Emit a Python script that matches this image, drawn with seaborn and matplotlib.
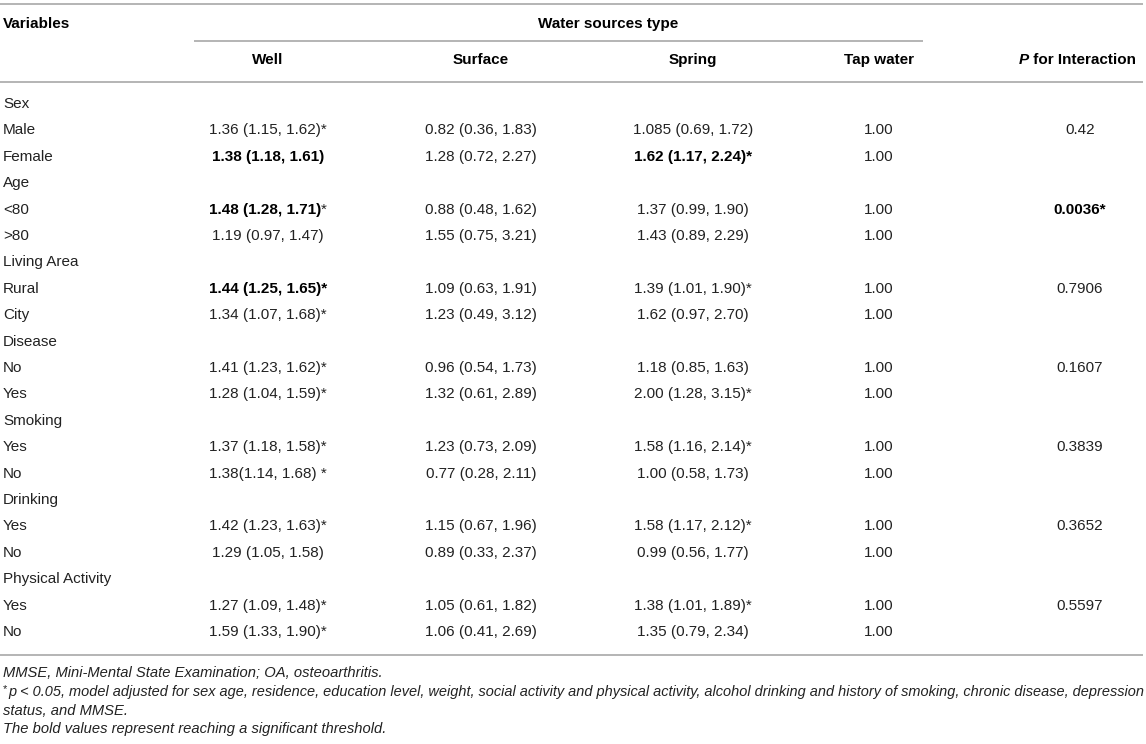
import matplotlib
matplotlib.use("Agg")
import matplotlib.pyplot as plt
import seaborn as sns

sns.set_theme(style="white")
plt.rcParams['font.family'] = ['Liberation Sans', 'DejaVu Sans']

# ---------------- data ----------------
variables = ["Sex", "Male", "Female", "Age", "<80", ">80", "Living Area", "Rural", "City",
             "Disease", "No", "Yes", "Smoking", "Yes", "No", "Drinking", "Yes", "No",
             "Physical Activity", "Yes", "No"]
well = ["", "1.36 (1.15, 1.62)*", "1.38 (1.18, 1.61)", "", "1.48 (1.28, 1.71)", "1.19 (0.97, 1.47)",
        "", "1.44 (1.25, 1.65)*", "1.34 (1.07, 1.68)*", "", "1.41 (1.23, 1.62)*", "1.28 (1.04, 1.59)*",
        "", "1.37 (1.18, 1.58)*", "1.38(1.14, 1.68) *", "", "1.42 (1.23, 1.63)*", "1.29 (1.05, 1.58)",
        "", "1.27 (1.09, 1.48)*", "1.59 (1.33, 1.90)*"]
surface = ["", "0.82 (0.36, 1.83)", "1.28 (0.72, 2.27)", "", "0.88 (0.48, 1.62)", "1.55 (0.75, 3.21)",
           "", "1.09 (0.63, 1.91)", "1.23 (0.49, 3.12)", "", "0.96 (0.54, 1.73)", "1.32 (0.61, 2.89)",
           "", "1.23 (0.73, 2.09)", "0.77 (0.28, 2.11)", "", "1.15 (0.67, 1.96)", "0.89 (0.33, 2.37)",
           "", "1.05 (0.61, 1.82)", "1.06 (0.41, 2.69)"]
spring = ["", "1.085 (0.69, 1.72)", "1.62 (1.17, 2.24)*", "", "1.37 (0.99, 1.90)", "1.43 (0.89, 2.29)",
          "", "1.39 (1.01, 1.90)*", "1.62 (0.97, 2.70)", "", "1.18 (0.85, 1.63)", "2.00 (1.28, 3.15)*",
          "", "1.58 (1.16, 2.14)*", "1.00 (0.58, 1.73)", "", "1.58 (1.17, 2.12)*", "0.99 (0.56, 1.77)",
          "", "1.38 (1.01, 1.89)*", "1.35 (0.79, 2.34)"]
tap = ["", "1.00", "1.00", "", "1.00", "1.00", "", "1.00", "1.00", "", "1.00", "1.00",
       "", "1.00", "1.00", "", "1.00", "1.00", "", "1.00", "1.00"]
p_inter = ["", "0.42", "", "", "0.0036*", "", "", "0.7906", "", "", "0.1607", "",
           "", "0.3839", "", "", "0.3652", "", "", "0.5597", ""]
# bold cells: (row, column name)
bold_cells = {(2, "well"), (4, "well"), (7, "well"), (2, "spring"), (4, "p")}
# bold cells followed by a regular-weight asterisk
light_star_cells = {(4, "well")}

col_headers = ["Well", "Surface", "Spring", "Tap water"]
group_header = "Water sources type"
footnotes = [
    "MMSE, Mini-Mental State Examination; OA, osteoarthritis.",
    "p < 0.05, model adjusted for sex age, residence, education level, weight, social activity and physical activity, alcohol drinking and history of smoking, chronic disease, depression",
    "status, and MMSE.",
    "The bold values represent reaching a significant threshold.",
]

# ---------------- layout ----------------
W, H = 1146, 744
fig = plt.figure(figsize=(W / 100, H / 100), dpi=100)
ax = fig.add_axes([0, 0, 1, 1])
ax.set_xlim(0, W)
ax.set_ylim(H, 0)
ax.axis("off")

FS = 11.0
line_color = "#b4b4b4"
txt = "#222222"

col_x = {"well": 268, "surface": 481, "spring": 693, "tap": 879, "p": 1080}
columns = {"well": well, "surface": surface, "spring": spring, "tap": tap, "p": p_inter}

# rules
ax.hlines([4, 82, 655], 0, 1143, color=line_color, lw=1.4)
ax.hlines(41, 194, 923, color=line_color, lw=1.4)

# header
ax.text(3, 24, "Variables", fontsize=FS, fontweight="bold", va="center", ha="left", color="black")
ax.text(608, 24, group_header, fontsize=FS, fontweight="bold", va="center", ha="center", color="black")
for name, key in zip(col_headers, ["well", "surface", "spring", "tap"]):
    ax.text(col_x[key], 60, name, fontsize=FS, fontweight="bold", va="center", ha="center", color="black")
ax.text(1029, 60, "P", fontsize=FS, fontweight="bold", fontstyle="italic", va="center", ha="right", color="black")
ax.text(1029, 60, " for Interaction", fontsize=FS, fontweight="bold", va="center", ha="left", color="black")

# body
fig.canvas.draw()
renderer = fig.canvas.get_renderer()
y0, dy = 104, 26.4
for i, var in enumerate(variables):
    y = y0 + i * dy
    ax.text(3, y, var, fontsize=FS, va="center", ha="left", color=txt)
    for key, vals in columns.items():
        s = vals[i]
        if not s:
            continue
        bold = (i, key) in bold_cells
        if (i, key) in light_star_cells:
            t = ax.text(col_x[key] - 3, y, s, fontsize=FS, fontweight="bold", va="center", ha="center", color="black")
            bb = t.get_window_extent(renderer)
            xr = bb.x1
            ax.text(xr, y, "*", fontsize=FS, va="center", ha="left", color=txt)
        else:
            ax.text(col_x[key], y, s, fontsize=FS, fontweight="bold" if bold else "normal",
                    va="center", ha="center", color="black" if bold else txt)

# footnotes
fy = [673, 692, 711, 729]
FF = 10.6
ax.text(3, fy[0], footnotes[0], fontsize=FF, fontstyle="italic", va="center", ha="left", color=txt)
ax.text(3, fy[1] - 3, "*", fontsize=FF * 0.75, va="center", ha="left", color=txt)
ax.text(8, fy[1], footnotes[1], fontsize=10.42, fontstyle="italic", va="center", ha="left", color=txt)
ax.text(3, fy[2], footnotes[2], fontsize=FF, fontstyle="italic", va="center", ha="left", color=txt)
ax.text(3, fy[3], footnotes[3], fontsize=FF, fontstyle="italic", va="center", ha="left", color=txt)

fig.savefig("out.png", dpi=100)
